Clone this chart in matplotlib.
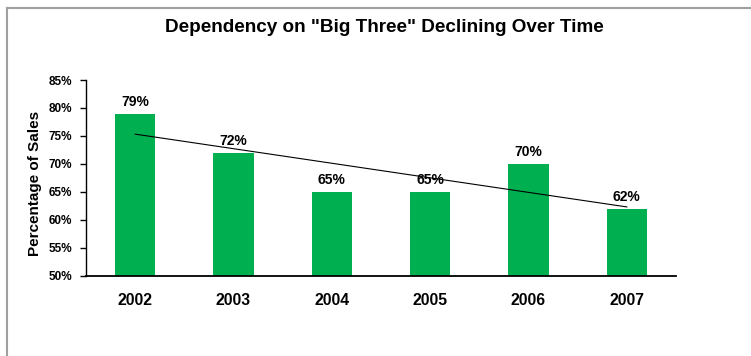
import matplotlib
matplotlib.use("Agg")
import matplotlib.pyplot as plt
from matplotlib import font_manager
import numpy as np

years = ["2002", "2003", "2004", "2005", "2006", "2007"]
share = [79, 72, 65, 65, 70, 62]
yticks = [50, 55, 60, 65, 70, 75, 80, 85]

names = {f.name for f in font_manager.fontManager.ttflist}
title_font = "Liberation Sans Narrow" if "Liberation Sans Narrow" in names else "Liberation Sans"
font = "Liberation Sans"

W, H = 751, 356
fig = plt.figure(figsize=(W / 100, H / 100), dpi=100)

# outer frame (gray) lines
fig.add_artist(plt.Line2D([7 / W, 7 / W], [0, 1 - 8 / H], color="#a0a0a0", lw=1.5))
fig.add_artist(plt.Line2D([7 / W, 1], [1 - 8 / H, 1 - 8 / H], color="#a0a0a0", lw=1.5))

ax = fig.add_axes([86 / W, (H - 276) / H, 590 / W, 196 / H])
x = np.arange(len(years))
ax.bar(x, [v - 50 for v in share], bottom=50, width=0.41, color="#00B050", zorder=2)

coef = np.polyfit(x, share, 1)
ax.plot(x, np.polyval(coef, x), color="black", lw=0.8, zorder=3)

for xi, v in zip(x, share):
    ax.annotate(f"{v}%", (xi, v), xytext=(0, 3.5), textcoords="offset points",
                ha="center", va="bottom", fontsize=10, fontweight="bold",
                family=font)

ax.set_xlim(-0.5, 5.5)
ax.set_ylim(50, 85)
ax.set_yticks(yticks)
ax.set_yticklabels([f"{t}%" for t in yticks], fontsize=8.5, fontweight="bold", family=font)
ax.set_xticks(x)
ax.set_xticklabels(years, fontsize=11.3, fontweight="bold", family=font)
ax.tick_params(axis="x", length=0, pad=12)
ax.tick_params(axis="y", length=4, width=1, pad=6, direction="out")
for s in ("top", "right"):
    ax.spines[s].set_visible(False)
ax.spines["left"].set_linewidth(1)
ax.spines["bottom"].set_linewidth(1.3)
ax.set_ylabel("Percentage of Sales", fontsize=11, fontweight="bold", family=font)
ax.yaxis.set_label_coords(-(86 - 42) / 590, 0.47)

fig.text(384 / W, 1 - 27 / H, 'Dependency on "Big Three" Declining Over Time',
         ha="center", va="center", fontsize=13.6, fontweight="bold", family=title_font)

fig.savefig("out.png", dpi=100)
